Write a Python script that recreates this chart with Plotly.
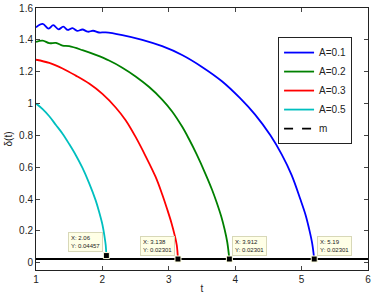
import plotly.graph_objects as go

# ---- data ----
t_A01 = [1.0, 1.1, 1.19, 1.26, 1.34, 1.41, 1.48, 1.55, 1.62, 1.70, 1.78, 1.86, 1.95, 2.05, 2.3, 2.6,
         2.9, 3.2, 3.5, 3.8, 4.07, 4.3, 4.53, 4.7, 4.85, 4.98, 5.06, 5.12, 5.16, 5.19]
d_A01 = [1.478, 1.500, 1.470, 1.492, 1.466, 1.483, 1.462, 1.473, 1.456, 1.465, 1.451, 1.457, 1.446, 1.447,
         1.43, 1.40, 1.36, 1.305, 1.23, 1.14, 1.035, 0.93, 0.80, 0.68, 0.55, 0.40, 0.30, 0.20, 0.12,
         0.02301]

t_A02 = [1.0, 1.1, 1.2, 1.3, 1.4, 1.5, 1.7, 1.9, 2.1, 2.3, 2.5, 2.7, 2.9, 3.05, 3.2, 3.3, 3.42, 3.55,
         3.65, 3.72, 3.79, 3.84, 3.88, 3.912]
d_A02 = [1.387, 1.395, 1.379, 1.381, 1.364, 1.36, 1.335, 1.305, 1.27, 1.225, 1.17, 1.105, 1.025, 0.95,
         0.855, 0.78, 0.68, 0.56, 0.46, 0.38, 0.29, 0.21, 0.13, 0.02301]

t_A03 = [1.0, 1.2, 1.4, 1.6, 1.8, 2.0, 2.2, 2.35, 2.5, 2.65, 2.8, 2.9, 2.98, 3.04, 3.09, 3.12, 3.138]
d_A03 = [1.275, 1.255, 1.22, 1.175, 1.125, 1.06, 0.975, 0.895, 0.79, 0.67, 0.54, 0.43, 0.33, 0.25,
         0.17, 0.11, 0.02301]

t_A05 = [1.0, 1.1, 1.2, 1.3, 1.4, 1.5, 1.6, 1.7, 1.8, 1.9, 1.95, 2.0, 2.03, 2.05, 2.06]
d_A05 = [1.0, 0.965, 0.92, 0.865, 0.81, 0.745, 0.675, 0.595, 0.50, 0.39, 0.32, 0.24, 0.17, 0.11, 0.04457]

m_t = [1, 6]
m_val = [0.02301, 0.02301]

tip_x = [2.06, 3.138, 3.912, 5.19]
tip_y = [0.04457, 0.02301, 0.02301, 0.02301]

x_ticks = [1, 2, 3, 4, 5, 6]
y_ticks = [0, 0.2, 0.4, 0.6, 0.8, 1.0, 1.2, 1.4, 1.6]
y_tick_text = ["0", "0.2", "0.4", "0.6", "0.8", "1", "1.2", "1.4", "1.6"]

series = [
    ("A=0.1", t_A01, d_A01, "#0000ff"),
    ("A=0.2", t_A02, d_A02, "#008000"),
    ("A=0.3", t_A03, d_A03, "#ff0000"),
    ("A=0.5", t_A05, d_A05, "#00bfbf"),
]

FONT = "Liberation Sans, Arial, sans-serif"

fig = go.Figure()

# m line (solid on the plot) drawn first, behind curves
fig.add_trace(go.Scatter(x=m_t, y=m_val, mode="lines",
                         line=dict(color="black", width=2), showlegend=False, hoverinfo="skip"))

for name, tx, dy, col in series:
    fig.add_trace(go.Scatter(x=tx, y=dy, mode="lines", name=name,
                             line=dict(color=col, width=1.8, shape="spline", smoothing=1.0)))

# legend-only entry for m (dashed)
fig.add_trace(go.Scatter(x=[None], y=[None], mode="lines", name="m",
                         line=dict(color="black", width=1.8, dash="dash")))

# data tip markers
fig.add_trace(go.Scatter(x=tip_x, y=tip_y, mode="markers", showlegend=False,
                         marker=dict(symbol="square", size=6, color="black",
                                     line=dict(color="#ffffe0", width=1))))

anchors = [("right", -3, 4), ("right", -3, 3), ("left", 3, 3), ("left", 3, 3)]
for (xa, xs, ys), xv, yv in zip(anchors, tip_x, tip_y):
    fig.add_annotation(x=xv, y=yv, xref="x", yref="y", showarrow=False,
                       text=f"X: {xv:g}<br>Y: {yv:g}", align="left",
                       xanchor=xa, yanchor="bottom", xshift=xs, yshift=ys,
                       font=dict(size=6, color="#222222", family=FONT),
                       bgcolor="#ffffe6", bordercolor="#d8d8b8", borderwidth=1, borderpad=2)

fig.update_layout(
    width=374, height=298,
    margin=dict(l=36, r=6, t=8, b=28),
    paper_bgcolor="white", plot_bgcolor="white",
    font=dict(family=FONT, size=10, color="#222222"),
    showlegend=True,
    legend=dict(x=0.952, y=0.889, xanchor="right", yanchor="top",
                bgcolor="white", bordercolor="#222222", borderwidth=1,
                font=dict(size=10), itemwidth=30, tracegroupgap=0),
    xaxis=dict(range=[1, 6], tickvals=x_ticks, ticks="inside", ticklen=4,
               showline=True, linecolor="#222222", linewidth=1, mirror="ticks",
               showgrid=False, zeroline=False, automargin=False,
               title=dict(text="t", font=dict(size=10), standoff=0)),
    yaxis=dict(range=[-0.046, 1.6], tickvals=y_ticks, ticktext=y_tick_text,
               ticks="inside", ticklen=4,
               showline=True, linecolor="#222222", linewidth=1, mirror="ticks",
               showgrid=False, zeroline=False, automargin=False,
               title=dict(text="δ(t)", font=dict(size=10), standoff=4)),
)

fig.write_html("out.html", config={"displayModeBar": False},
               post_script="document.body.style.margin='0';")
